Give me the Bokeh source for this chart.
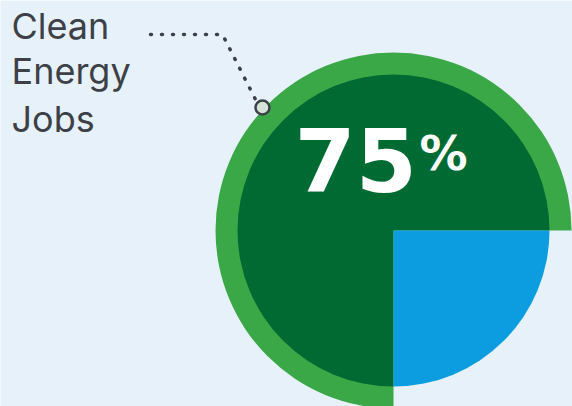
import numpy as np
from bokeh.plotting import figure
from bokeh.models import Range1d
from bokeh.core.properties import value
from bokeh.embed import file_html
from bokeh.resources import INLINE

# ---- data ----
categories = ["Clean Energy Jobs", "Other"]
shares = [75, 25]
label_lines = ["Clean", "Energy", "Jobs"]
big_number = "75"
pct_sign = "%"

W, H = 572, 406
BG = "#e6f1fa"
DARK_GREEN = "#006a33"
RING_GREEN = "#3ba847"
BLUE = "#0c9de0"
TEXT = "#3d4147"

p = figure(width=W, height=H, x_range=Range1d(0, W), y_range=Range1d(0, H),
           output_backend="svg", toolbar_location=None, min_border=0)
p.axis.visible = False
p.grid.visible = False
p.outline_line_color = None
p.background_fill_color = BG
p.border_fill_color = BG

cx, cy = 393, 406 - 230
r_in, r_out = 156, 178

fr = np.array(shares, dtype=float) / sum(shares)
ends = np.cumsum(fr) * 2 * np.pi
starts = np.concatenate([[0], ends[:-1]])

# outer ring for the clean energy share only
p.wedge(x=cx, y=cy, radius=r_out, start_angle=starts[0], end_angle=ends[0],
        fill_color=RING_GREEN, line_color=None)
p.wedge(x=[cx, cx], y=[cy, cy], radius=r_in, start_angle=list(starts), end_angle=list(ends),
        fill_color=[DARK_GREEN, BLUE], line_color=None)

# leader line
p.line(x=[150, 222, 255], y=[406 - 34, 406 - 34, 406 - 99], line_color=TEXT,
       line_width=3.5, line_dash="1 10", line_cap="round")
p.scatter(x=[262], y=[406 - 107], marker="circle", size=14, fill_color="#d4e2da",
          line_color=TEXT, line_width=2.5)

# label
p.text(x=[11, 11, 11], y=[406 - 25, 406 - 70, 406 - 118], text=label_lines,
       text_font=value("Inter"), text_font_size="36px", text_color=TEXT,
       text_baseline="alphabetic", text_align="left")

# 75%
p.text(x=[294], y=[406 - 159], text=[big_number], text_font=value("DejaVu Sans"),
       text_font_size="88px", text_font_style="bold", text_color="white",
       text_baseline="alphabetic")
p.text(x=[419], y=[406 - 152], text=[pct_sign], text_font=value("DejaVu Sans"),
       text_font_size="48px", text_font_style="bold", text_color="white",
       text_baseline="alphabetic")

open("out.html", "w").write(file_html(p, INLINE))
